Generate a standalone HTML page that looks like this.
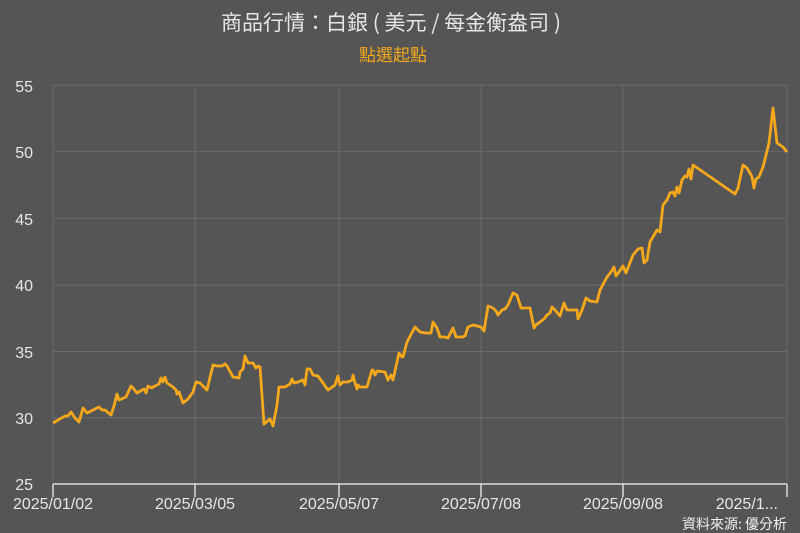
<!DOCTYPE html>
<html><head><meta charset="utf-8"><style>
html,body{margin:0;padding:0;background:#555555;width:800px;height:533px;overflow:hidden}
svg{display:block}
text{font-family:"Liberation Sans","Noto Sans CJK TC",sans-serif}
</style></head><body>
<svg width="800" height="533" viewBox="0 0 800 533" xmlns="http://www.w3.org/2000/svg">
<rect width="800" height="533" fill="#555555"/>
<text x="391" y="30" text-anchor="middle" font-size="21" fill="#e6e6e6" style="font-family:'Noto Sans CJK TC',sans-serif">商品行情：白銀 ( 美元 / 每金衡盎司 )</text>
<text x="393" y="61" text-anchor="middle" font-size="17" fill="#f5a81c" style="font-family:'Noto Sans CJK TC',sans-serif">點選起點</text>
<g stroke="#6c6c6c" stroke-width="1">
<line x1="53" y1="85" x2="787" y2="85"/>
<line x1="53" y1="151.7" x2="787" y2="151.7"/>
<line x1="53" y1="218.3" x2="787" y2="218.3"/>
<line x1="53" y1="285" x2="787" y2="285"/>
<line x1="53" y1="351.5" x2="787" y2="351.5"/>
<line x1="53" y1="417.8" x2="787" y2="417.8"/>
<line x1="53" y1="85" x2="53" y2="484"/>
<line x1="195" y1="85" x2="195" y2="484"/>
<line x1="339" y1="85" x2="339" y2="484"/>
<line x1="481" y1="85" x2="481" y2="484"/>
<line x1="623" y1="85" x2="623" y2="484"/>
<line x1="787" y1="85" x2="787" y2="484"/>
</g>
<g font-size="16" fill="#e6e6e6" text-anchor="end">
<text x="33" y="92">55</text>
<text x="33" y="158">50</text>
<text x="33" y="225">45</text>
<text x="33" y="291">40</text>
<text x="33" y="358">35</text>
<text x="33" y="424">30</text>
<text x="33" y="490">25</text>
</g>
<g stroke="#dcdcdc" stroke-width="1.5">
<line x1="53" y1="484" x2="787" y2="484"/>
<line x1="53" y1="484" x2="53" y2="497"/>
<line x1="195" y1="484" x2="195" y2="497"/>
<line x1="339" y1="484" x2="339" y2="497"/>
<line x1="481" y1="484" x2="481" y2="497"/>
<line x1="623" y1="484" x2="623" y2="497"/>
<line x1="787" y1="484" x2="787" y2="497"/>
</g>
<g font-size="16" fill="#e6e6e6" text-anchor="middle">
<text x="53" y="509">2025/01/02</text>
<text x="195" y="509">2025/03/05</text>
<text x="339" y="509">2025/05/07</text>
<text x="481" y="509">2025/07/08</text>
<text x="623" y="509">2025/09/08</text>
<text x="778" y="509" text-anchor="end">2025/1...</text>
</g>
<text x="787" y="529" text-anchor="end" font-size="14" fill="#f0f0f0" style="font-family:'Noto Sans CJK TC',sans-serif">資料來源: 優分析</text>
<polyline fill="none" stroke="#f5a81c" stroke-width="2.8" stroke-linejoin="round" points="53,423 65,416 68,416 71,412 75,418 79,422 83,408 87,413 93,410 99,407 102,410 105,410 111,415 114,406 117,394 119,400 126,397 131,386 133,388 137,393 142,390 144,389 146,393 148,386 152,388 153,387 159,384 161,378 163,382 165,377 167,383 173,387 176,390 177,394 179,392 183,403 188,399 193,392 196,382 200,383 207,390 213,365 217,366 222,366 225,364 227,366 233,377 239,378 240,372 243,369 245,356 248,363 253,363 256,368 258,366 260,367 264,424 270,419 273,426 277,405 279,387 285,387 290,384 292,379 294,383 298,382 303,380 305,385 307,369 310,369 313,375 318,376 323,383 328,390 335,385 338,376 340,385 343,382 348,382 352,380 353,375 355,383 357,389 358,385 360,387 367,387 372,370 373,370 375,375 377,371 385,372 388,380 391,375 393,380 399,353 402,357 403,357 407,342 415,327 420,332 425,333 431,333 433,322 437,328 440,337 445,337 448,338 453,328 456,337 462,337 465,336 468,327 473,325 481,327 484,331 488,306 493,308 496,311 498,315 502,310 505,309 508,305 513,293 517,295 521,308 530,308 534,328 536,325 540,322 544,319 547,315 550,313 552,307 555,310 560,316 564,303 567,310 577,310 578,319 582,310 586,298 590,301 597,302 600,290 607,277 611,272 614,267 616,276 619,272 623,266 626,273 633,255 638,249 642,248 644,263 647,260 650,242 657,230 660,232 663,205 667,200 670,193 673,192 675,196 677,187 679,193 682,180 685,176 687,177 689,169 691,179 693,165 735,194 738,188 743,165 747,168 750,173 752,177 754,188 756,179 759,177 763,167 769,143 773,108 777,143 783,147 787,152"/>
</svg>
</body></html>
